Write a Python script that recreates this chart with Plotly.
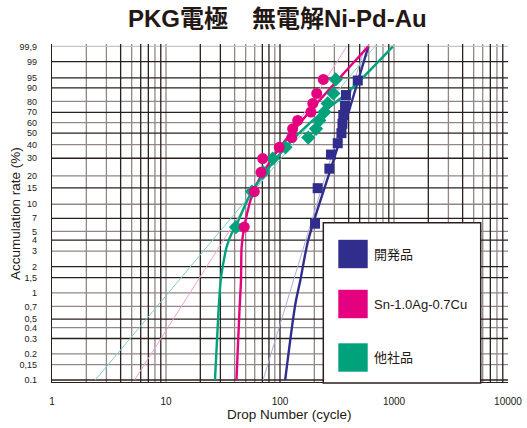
import numpy as np
import plotly.graph_objects as go

# ---------------- data ----------------
series_names = ["開発品", "Sn-1.0Ag-0.7Cu", "他社品"]
series_colors = ["#312d8c", "#e4007f", "#00a27c"]
fit_colors = ["#aeacd8", "#f4a3c8", "#86d2bf"]
series_symbols = ["square", "circle", "diamond"]

dev_cycles = [203, 214, 271, 280, 321, 346, 353, 359, 372, 379, 481]
dev_rate = [6.1, 14.9, 23.7, 32.5, 41.2, 50.0, 58.8, 67.5, 76.3, 85.1, 93.9]
sac_cycles = [48.6, 59.5, 68.1, 70.5, 98.6, 126.7, 129, 143, 187, 194, 210, 240]
sac_rate = [5.6, 13.7, 21.8, 29.8, 37.9, 46.0, 54.0, 62.1, 70.2, 78.2, 86.3, 94.4]
oth_cycles = [41.1, 56.8, 71, 86.3, 111.7, 177, 207, 221, 245, 262, 294, 308]
oth_rate = [5.6, 13.7, 21.8, 29.8, 37.9, 46.0, 54.0, 62.1, 70.2, 78.2, 86.3, 94.4]

# straight (2-parameter) fit lines
fit2_rate = [0.1, 99.9]
dev_fit2_cycles = [71, 557]
sac_fit2_cycles = [5.3, 385]
oth_fit2_cycles = [2.4, 681]

# curved (3-parameter) fit lines
dev_fit3_cycles = [111, 136, 151, 177, 295, 405, 596]
dev_fit3_rate = [0.1, 0.73, 1.41, 4.0, 28.8, 72.2, 99.9]
sac_fit3_cycles = [41.5, 44.0, 45.5, 46.1, 48.6, 59.2, 96, 187, 385, 596]
sac_fit3_rate = [0.1, 0.586, 1.41, 3.37, 5.65, 14.3, 35.8, 72.2, 97.5, 99.9]
oth_fit3_cycles = [26.9, 28.8, 30.2, 31.8, 34.1, 37.7, 41.1, 56.5, 111, 196, 385, 980]
oth_fit3_rate = [0.1, 0.586, 1.41, 2.18, 3.37, 4.76, 5.76, 13.7, 37.4, 62.6, 86.4, 99.9]

# axis ticks
y_ticks = [0.1, 0.15, 0.2, 0.3, 0.4, 0.5, 0.7, 1, 1.5, 2, 3, 4, 5, 7, 10, 15, 20,
           30, 40, 50, 60, 70, 80, 90, 95, 99, 99.9]
y_labels = ["0.1", "0,15", "0.2", "0.3", "0.4", "0,5", "0,7", "1", "1,5", "2", "3", "4",
            "5", "7", "10", "15", "20", "30", "40", "50", "60", "70", "80", "90", "95",
            "99", "99,9"]
y_grid_dark = [0.1, 0.3, 0.5, 1.5, 2, 4, 7, 15, 30, 50, 70, 90, 95, 99]
y_grid_gray = [0.15, 0.2, 0.4, 0.7, 1, 3, 5, 10, 20, 40, 60, 80]
y_grid_top = [99.9]
x_ticks = [1, 10, 100, 1000, 10000]
x_labels = ["1", "10", "100", "1000", "10000"]
x_grid_dark = [4, 6, 7, 9, 20, 30, 70, 80, 100, 400, 500, 900, 2000, 4000, 7000, 9000]
x_grid_gray = [2, 3, 5, 8, 10, 40, 50, 60, 90, 200, 300, 600, 700, 800, 1000,
               3000, 5000, 6000, 8000]

title_text = "PKG電極　無電解Ni-Pd-Au"
x_title = "Drop Number (cycle)"
y_title = "Accumulation rate (%)"


def weib(p):
    p = np.asarray(p, dtype=float) / 100.0
    return np.log(-np.log(1.0 - p))


Y_LO, Y_HI = -6.96, 1.996
X_LO, X_HI = 0.0, 4.0

fig = go.Figure()


def vlines(vals):
    xs, ys = [], []
    for v in vals:
        xs += [v, v, None]
        ys += [Y_LO, Y_HI, None]
    return xs, ys


def hlines(vals):
    xs, ys = [], []
    for v in vals:
        w = float(weib(v))
        xs += [10 ** X_LO, 10 ** X_HI, None]
        ys += [w, w, None]
    return xs, ys


for vals, col, fn in [(x_grid_gray, "#8f8886", vlines), (y_grid_gray, "#8f8886", hlines),
                      (y_grid_top, "#c4c4c4", hlines),
                      (x_grid_dark, "#2a201d", vlines), (y_grid_dark, "#2a201d", hlines)]:
    xs, ys = fn(vals)
    fig.add_trace(go.Scatter(x=xs, y=ys, mode="lines", line=dict(color=col, width=1.3),
                             hoverinfo="skip", showlegend=False))

fit2 = [dev_fit2_cycles, sac_fit2_cycles, oth_fit2_cycles]
fit3 = [(dev_fit3_cycles, dev_fit3_rate), (sac_fit3_cycles, sac_fit3_rate),
        (oth_fit3_cycles, oth_fit3_rate)]
pts = [(dev_cycles, dev_rate), (sac_cycles, sac_rate), (oth_cycles, oth_rate)]

for i in range(3):
    fig.add_trace(go.Scatter(x=fit2[i], y=weib(fit2_rate), mode="lines",
                             line=dict(color=fit_colors[i], width=1), showlegend=False,
                             hoverinfo="skip"))
for i in range(3):
    cx, cr = fit3[i]
    fig.add_trace(go.Scatter(x=cx, y=weib(cr), mode="lines",
                             line=dict(color=series_colors[i], width=2.4, shape="spline",
                                       smoothing=0.8),
                             showlegend=False, hoverinfo="skip"))
sizes = [10, 11, 11]
for i in [2, 1, 0]:
    px_, pr = pts[i]
    fig.add_trace(go.Scatter(x=px_, y=weib(pr), mode="markers", name=series_names[i],
                             marker=dict(symbol=series_symbols[i], size=sizes[i],
                                         color=series_colors[i], line=dict(width=0)),
                             showlegend=False))

L, R, T, B = 52, 508, 44, 382


def pxx(x):
    return (x - L) / (R - L)


def pxy(y):
    return (B - y) / (B - T)


shapes = []
shapes.append(dict(type="rect", xref="paper", yref="paper", x0=pxx(323.3), x1=pxx(480.7),
                   y0=pxy(383), y1=pxy(222.7), fillcolor="white",
                   line=dict(color="#2a201d", width=1.5), layer="above"))
annotations = []
leg_centers = [254, 304, 357.5]
for i in range(3):
    cy = leg_centers[i]
    shapes.append(dict(type="rect", xref="paper", yref="paper", x0=pxx(338.3), x1=pxx(367.7),
                       y0=pxy(cy + 14.2), y1=pxy(cy - 14.2), fillcolor=series_colors[i],
                       line=dict(width=0), layer="above"))
    annotations.append(dict(xref="paper", yref="paper", x=pxx(371.5), y=pxy(cy),
                            xanchor="left", yanchor="middle", showarrow=False,
                            text=series_names[i],
                            font=dict(size=13, color="#231815",
                                      family="Liberation Sans, Noto Sans CJK JP")))

annotations.append(dict(xref="paper", yref="paper", x=pxx(277), y=pxy(19),
                        xanchor="center", yanchor="middle", showarrow=False,
                        text=title_text,
                        font=dict(size=24, color="#231815", weight="bold",
                                  family="Liberation Sans, Noto Sans CJK JP")))
annotations.append(dict(xref="paper", yref="paper", x=pxx(289), y=pxy(414),
                        xanchor="center", yanchor="middle", showarrow=False,
                        text=x_title,
                        font=dict(size=13.5, color="#231815", family="Liberation Sans")))
annotations.append(dict(xref="paper", yref="paper", x=pxx(15), y=pxy(214),
                        xanchor="center", yanchor="middle", showarrow=False,
                        text=y_title, textangle=-90,
                        font=dict(size=13.5, color="#231815", family="Liberation Sans")))

fig.update_layout(
    width=527, height=428, autosize=False,
    margin=dict(l=L, r=527 - R, t=T, b=428 - B, pad=0, autoexpand=False),
    paper_bgcolor="white", plot_bgcolor="white",
    showlegend=False,
    shapes=shapes, annotations=annotations,
    xaxis=dict(type="log", range=[X_LO, X_HI], showgrid=False, zeroline=False,
               automargin=False,
               tickmode="array", tickvals=x_ticks, ticktext=x_labels, ticks="",
               ticklabelstandoff=10,
               tickfont=dict(size=10, color="#231815", family="Liberation Sans"),
               showline=True, linecolor="#2a201d", linewidth=1.2),
    yaxis=dict(range=[Y_LO, Y_HI], showgrid=False, zeroline=False,
               automargin=False,
               tickmode="array", tickvals=list(weib(y_ticks)), ticktext=y_labels, ticks="",
               ticklabelstandoff=12,
               tickfont=dict(size=9, color="#231815", family="Liberation Sans"),
               showline=True, linecolor="#2a201d", linewidth=1.4),
)

fig.write_html("out.html", config={"displayModeBar": False},
               post_script="document.body.style.margin='0';document.body.style.overflow='hidden';")
